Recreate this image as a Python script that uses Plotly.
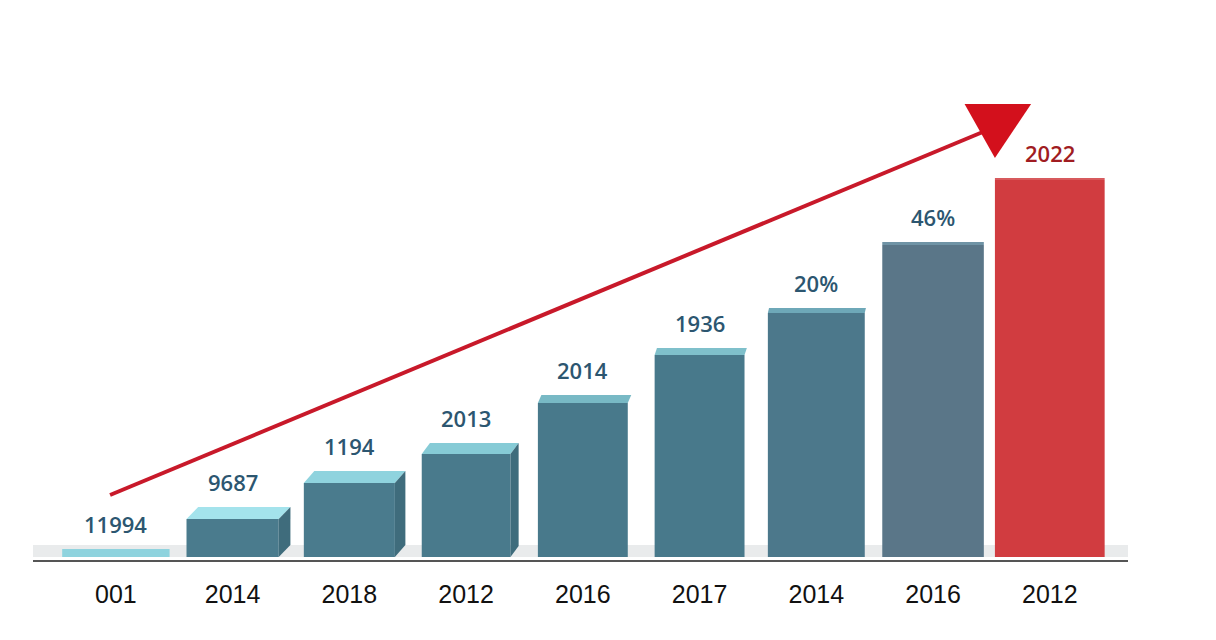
import plotly.graph_objects as go

# ---- data ----
categories = ["001", "2014", "2018", "2012", "2016", "2017", "2014", "2016", "2012"]
values = [8, 38, 74, 103, 154, 202, 244, 312, 377]
value_labels = ["11994", "9687", "1194", "2013", "2014", "1936", "20%", "46%", "2022"]

# ---- style ----
bar_widths = [0.92, 0.79, 0.78, 0.76, 0.77, 0.77, 0.83, 0.87, 0.94]
bar_colors = ["#8fd3de", "#4a7b8d", "#4a7b8d", "#497a8c", "#48798b", "#48798b",
              "#4c788b", "#5a7688", "#d13c40"]
top_colors = ["#a9e6ee", "#a4e3ec", "#8fd3de", "#86cbd6", "#78b9c5", "#7fc0cb",
              "#6ea8b8", "#6f93a5", "#d75a5d"]
side_colors = ["#8fd3de", "#3f6c7c", "#3f6c7c", "#3f6c7c", None, None, None, None, None]
top_depth = [0, 12, 12, 11, 8, 7, 5, 3, 2]
top_shift = [0.10, 0.10, 0.09, 0.07, 0.03, 0.02, 0.01, 0.0, 0.0]
label_colors = ["#2c5670"] * 8 + ["#a01c22"]

x = list(range(len(categories)))

fig = go.Figure()
fig.add_trace(go.Bar(
    x=x, y=values, width=bar_widths,
    marker=dict(color=bar_colors, line=dict(width=0)),
    hoverinfo="skip", showlegend=False,
))

shapes = []
# ground strip
shapes.append(dict(type="rect", xref="paper", yref="y", x0=0, x1=1, y0=0, y1=12,
                   fillcolor="#e9ebec", line=dict(width=0), layer="below"))
# top and side faces
for i, v in enumerate(values):
    if top_depth[i] <= 0:
        continue
    w = bar_widths[i] / 2
    x0, x1 = i - w, i + w
    s = top_shift[i]
    d = top_depth[i]
    path = (f"M {x0},{v} L {x1},{v} L {x1 + s},{v + d} L {x0 + s},{v + d} Z")
    shapes.append(dict(type="path", xref="x", yref="y", path=path,
                       fillcolor=top_colors[i], line=dict(width=0)))
    if side_colors[i] and s > 0:
        spath = f"M {x1},{v} L {x1 + s},{v + d} L {x1 + s},{d} L {x1},0 Z"
        shapes.append(dict(type="path", xref="x", yref="y", path=spath,
                           fillcolor=side_colors[i], line=dict(width=0)))

# trend arrow
arrow_start = (-0.05, 62)
arrow_end = (7.57, 432)
head = [(7.27, 453), (7.84, 453), (7.53, 399)]
shapes.append(dict(type="line", xref="x", yref="y",
                   x0=arrow_start[0], y0=arrow_start[1], x1=arrow_end[0], y1=arrow_end[1],
                   line=dict(color="#c8192a", width=4)))
shapes.append(dict(type="path", xref="x", yref="y",
                   path=f"M {head[0][0]},{head[0][1]} L {head[1][0]},{head[1][1]} L {head[2][0]},{head[2][1]} Z",
                   fillcolor="#d3101c", line=dict(width=0)))

annotations = []
for i, v in enumerate(values):
    annotations.append(dict(
        x=i, y=v + top_depth[i], xref="x", yref="y", text=value_labels[i],
        showarrow=False, yanchor="bottom", yshift=8,
        font=dict(family="Open Sans, Noto Sans, sans-serif", size=22,
                  color=label_colors[i], weight=600),
    ))

fig.update_layout(
    width=1200, height=624,
    margin=dict(l=25, r=80, t=12, b=72),
    paper_bgcolor="#ffffff", plot_bgcolor="#ffffff",
    shapes=shapes, annotations=annotations,
    xaxis=dict(
        range=[-0.71, 8.67], tickmode="array", tickvals=x, ticktext=categories,
        showgrid=False, zeroline=False, showline=True, linecolor="#555555", linewidth=1.5,
        ticks="outside", ticklen=11, tickcolor="rgba(0,0,0,0)",
        tickfont=dict(family="Liberation Sans, Arial, sans-serif", size=25, color="#111111"),
    ),
    yaxis=dict(range=[-3, 537], visible=False, showgrid=False, zeroline=False),
)

fig.write_html("out.html")
